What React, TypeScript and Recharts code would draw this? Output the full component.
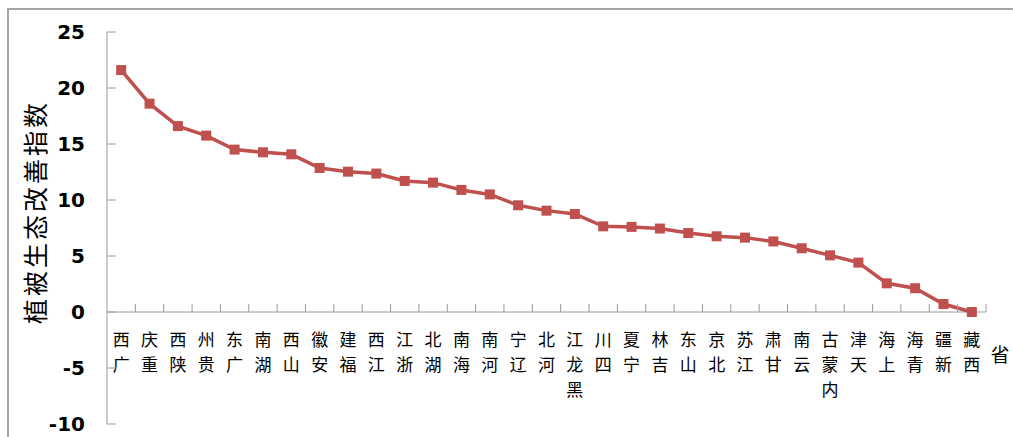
import { LineChart, Line, XAxis, YAxis, ReferenceLine } from 'recharts';

const provinces = [
  '广西', '重庆', '陕西', '贵州', '广东', '湖南', '山西', '安徽', '福建', '江西', '浙江',
  '湖北', '海南', '河南', '辽宁', '河北', '黑龙江', '四川', '宁夏', '吉林', '山东', '北京',
  '江苏', '甘肃', '云南', '内蒙古', '天津', '上海', '青海', '新疆', '西藏',
];
const improvementIndex = [
  21.6, 18.6, 16.6, 15.75, 14.5, 14.26, 14.08, 12.86, 12.53, 12.36, 11.7,
  11.55, 10.9, 10.5, 9.53, 9.05, 8.75, 7.65, 7.6, 7.45, 7.05, 6.76,
  6.64, 6.3, 5.69, 5.06, 4.41, 2.56, 2.12, 0.71, 0.0,
];
const yTicks = [-10, -5, 0, 5, 10, 15, 20, 25];

const W = 1013;
const H = 437;
const MARGIN = { top: 32, right: 27, bottom: 12, left: 0 };
const X_AXIS_H = 1;
const Y_AXIS_W = 107;
const Y_MIN = -10;
const Y_MAX = 25;
const PLOT_H = H - MARGIN.top - MARGIN.bottom - X_AXIS_H;
const PLOT_W = W - MARGIN.right - Y_AXIS_W;
const ZERO_Y = MARGIN.top + PLOT_H * (Y_MAX / (Y_MAX - Y_MIN));
const AXIS_COLOR = '#9a9a9a';
const LINE_COLOR = '#C0504D';
const CJK = '"Noto Sans CJK SC", "Noto Sans", sans-serif';

const data = provinces.map((name, i) => ({ name, value: improvementIndex[i] }));

const SquareDot = (props: any) => {
  const { cx, cy } = props;
  if (cx == null || cy == null) return null;
  return <rect x={cx - 5} y={cy - 5} width={10} height={10} fill={LINE_COLOR} />;
};

// category labels: characters stacked, read bottom-to-top, hanging under the zero line
const ProvinceTick = ({ x, payload }: any) => {
  const half = payload.offset || PLOT_W / provinces.length / 2;
  const chars = Array.from(String(payload.value)).reverse();
  return (
    <g>
      <line x1={x + half} x2={x + half} y1={ZERO_Y} y2={ZERO_Y - 8} stroke={AXIS_COLOR} />
      {chars.map((c, i) => (
        <text
          key={i}
          x={x}
          y={ZERO_Y + 26 + i * 25}
          textAnchor="middle"
          dominantBaseline="central"
          fontFamily={CJK}
          fontSize={17}
          fill="#000"
        >
          {c}
        </text>
      ))}
    </g>
  );
};

const ValueTick = ({ y, payload }: any) => (
  <g>
    <line x1={Y_AXIS_W} x2={Y_AXIS_W + 9} y1={y} y2={y} stroke={AXIS_COLOR} />
    <text
      x={85}
      y={y}
      textAnchor="end"
      dominantBaseline="central"
      fontFamily="DejaVu Sans"
      fontWeight="bold"
      fontSize={20}
      fill="#000"
    >
      {payload.value}
    </text>
  </g>
);

export default function App() {
  return (
    <div style={{ position: 'absolute', left: 0, top: 0, width: W, height: H, background: '#fff', overflow: 'hidden' }}>
      <div
        style={{
          position: 'absolute',
          left: 7,
          top: 8,
          width: W,
          height: H,
          borderTop: '2px solid #a6a6a6',
          borderLeft: '2px solid #a6a6a6',
        }}
      />
      <div style={{ position: 'absolute', left: 0, top: 0 }}>
        <LineChart width={W} height={H} data={data} margin={MARGIN}>
          <XAxis
            dataKey="name"
            scale="band"
            height={X_AXIS_H}
            axisLine={false}
            tickLine={false}
            interval={0}
            tick={<ProvinceTick />}
          />
          <YAxis
            width={Y_AXIS_W}
            domain={[Y_MIN, Y_MAX]}
            ticks={yTicks}
            interval={0}
            axisLine={{ stroke: AXIS_COLOR }}
            tickLine={false}
            tick={<ValueTick />}
            label={{
              content: () => (
                <text
                  x={34}
                  y={212}
                  transform="rotate(-90 34 212)"
                  textAnchor="middle"
                  dominantBaseline="central"
                  fontFamily={CJK}
                  fontSize={25}
                  letterSpacing={3}
                  fill="#000"
                >
                  植被生态改善指数
                </text>
              ),
            }}
          />
          <ReferenceLine
            y={0}
            stroke={AXIS_COLOR}
            label={{
              content: () => (
                <text
                  x={1000}
                  y={ZERO_Y + 41}
                  textAnchor="middle"
                  dominantBaseline="central"
                  fontFamily={CJK}
                  fontSize={19}
                  fill="#000"
                >
                  省
                </text>
              ),
            }}
          />
          <Line
            type="linear"
            dataKey="value"
            stroke={LINE_COLOR}
            strokeWidth={3.5}
            dot={<SquareDot />}
            activeDot={false}
            isAnimationActive={false}
          />
        </LineChart>
      </div>
    </div>
  );
}
